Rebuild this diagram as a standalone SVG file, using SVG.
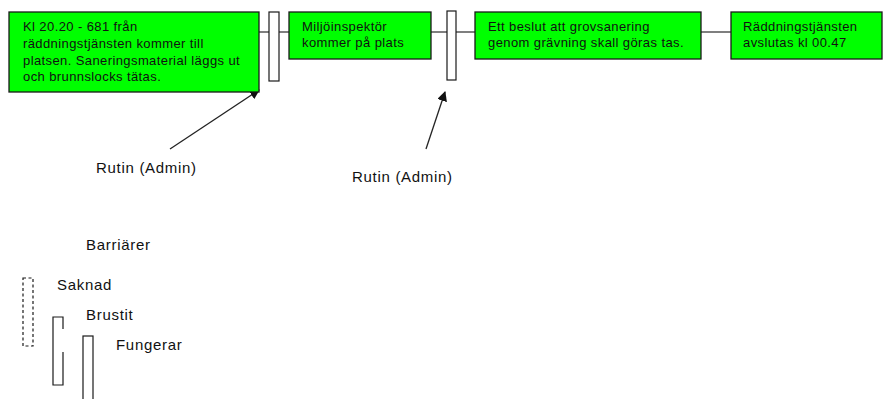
<svg xmlns="http://www.w3.org/2000/svg" width="883" height="399" viewBox="0 0 883 399">
<style>
.box{fill:#00ff00;stroke:#1a1a1a;stroke-width:1.3}
.bar{fill:#fff;stroke:#1a1a1a;stroke-width:1.2}
.t{font-family:"Liberation Sans",Arial,sans-serif;font-size:13px;letter-spacing:0.4px;fill:#111}
.l{font-family:"Liberation Sans",Arial,sans-serif;font-size:15px;letter-spacing:0.7px;fill:#111}
.c{stroke:#555;stroke-width:1.5;fill:none}
.a{stroke:#222;stroke-width:1.3;fill:none;marker-end:url(#ah)}
</style>
<defs>
<marker id="ah" viewBox="0 0 10 10" refX="9" refY="5" markerWidth="10" markerHeight="10" markerUnits="userSpaceOnUse" orient="auto">
<path d="M0,0 L10,5 L0,10 Z" fill="#111"/>
</marker>
</defs>
<rect width="883" height="399" fill="#fff"/>
<g id="connectors">
<line class="c" x1="259" y1="32" x2="269" y2="32"/>
<line class="c" x1="279" y1="32" x2="289" y2="32"/>
<line class="c" x1="431" y1="32" x2="447" y2="32"/>
<line class="c" x1="456" y1="32" x2="475" y2="32"/>
<line class="c" x1="701" y1="32" x2="731" y2="32"/>
<line class="a" x1="170" y1="149" x2="259" y2="90"/>
<line class="a" x1="426" y1="149" x2="445" y2="92"/>
</g>
<g id="box1">
<rect class="box" x="9" y="12" width="250" height="80"/>
<text class="t" x="23" y="31">Kl 20.20 - 681 från</text>
<text class="t" x="23" y="48">räddningstjänsten kommer till</text>
<text class="t" x="23" y="64.5">platsen. Saneringsmaterial läggs ut</text>
<text class="t" x="23" y="81">och brunnslocks tätas.</text>
</g>
<g id="barrier1"><rect class="bar" x="269" y="12" width="10" height="69"/></g>
<g id="box2">
<rect class="box" x="289" y="12" width="142" height="47"/>
<text class="t" x="302" y="31">Miljöinspektör</text>
<text class="t" x="302" y="47">kommer på plats</text>
</g>
<g id="barrier2"><rect class="bar" x="447" y="11" width="9" height="69"/></g>
<g id="box3">
<rect class="box" x="475" y="12" width="226" height="47"/>
<text class="t" x="488" y="31">Ett beslut att grovsanering</text>
<text class="t" x="488" y="47">genom grävning skall göras tas.</text>
</g>
<g id="box4">
<rect class="box" x="731" y="12" width="151" height="47"/>
<text class="t" x="743" y="31">Räddningstjänsten</text>
<text class="t" x="743" y="47">avslutas kl 00.47</text>
</g>
<g id="label1"><text class="l" x="96" y="173">Rutin (Admin)</text></g>
<g id="label2"><text class="l" x="352" y="182">Rutin (Admin)</text></g>
<g id="legend">
<text class="l" x="86" y="250">Barriärer</text>
<rect x="23" y="278" width="10" height="68" fill="none" stroke="#1a1a1a" stroke-width="1.2" stroke-dasharray="3,2.5"/>
<text class="l" x="57" y="290">Saknad</text>
<path d="M63,329 V317 H53 V385 H63 V352" fill="none" stroke="#1a1a1a" stroke-width="1.2"/>
<text class="l" x="86" y="320">Brustit</text>
<rect class="bar" x="83" y="336" width="10" height="70"/>
<text class="l" x="116" y="350">Fungerar</text>
</g>
</svg>
